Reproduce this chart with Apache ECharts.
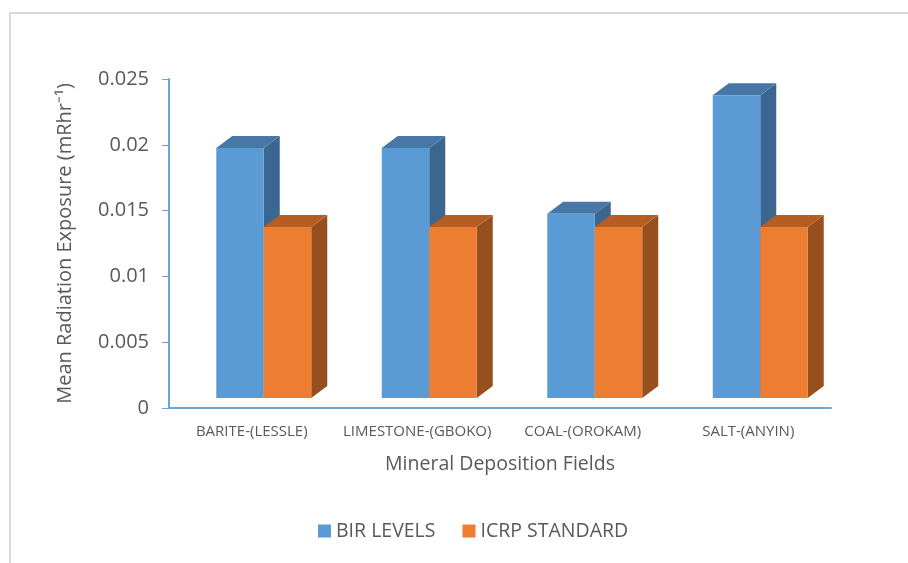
<!DOCTYPE html>
<html>
<head>
<meta charset="utf-8">
<script src="https://cdn.jsdelivr.net/npm/echarts@6/dist/echarts.min.js"></script>
<style>
html, body { margin: 0; padding: 0; background: #fff; }
#chart { width: 908px; height: 563px; }
</style>
</head>
<body>
<div id="chart"></div>
<script>
// values
var categories = ['BARITE-(LESSLE)', 'LIMESTONE-(GBOKO)', 'COAL-(OROKAM)', 'SALT-(ANYIN)']
var birLevels = [0.019, 0.019, 0.014, 0.023]
var icrpStandard = [0.013, 0.013, 0.013, 0.013]
var yTicks = { min: 0, max: 0.025, interval: 0.005 }

var shades = [
  { front: '#5B9BD5', top: '#4677A6', side: '#3B668F' },
  { front: '#ED7D31', top: '#B65E22', side: '#974F1D' }
]

// fake excel style 3d column
function bar3d(idx) {
  return function (params, api) {
    var cat = api.value(0)
    var top = api.coord([cat, api.value(1)])
    var base = api.coord([cat, 0])
    var catW = api.size([1, 0])[0]
    var w = catW * 0.287
    var lift = 10
    var dx = 16
    var dy = 12
    var left = base[0] + 12 - (idx === 0 ? w : 0)
    var right = left + w
    var y0 = base[1] - lift
    var y1 = top[1] - lift
    var c = shades[idx]
    return {
      type: 'group',
      children: [
        { type: 'polygon', shape: { points: [[right, y0], [right + dx, y0 - dy], [right + dx, y1 - dy], [right, y1]] }, style: { fill: c.side } },
        { type: 'polygon', shape: { points: [[left, y1], [left + dx, y1 - dy], [right + dx, y1 - dy], [right, y1]] }, style: { fill: c.top } },
        { type: 'rect', shape: { x: left, y: y1, width: w, height: y0 - y1 }, style: { fill: c.front } }
      ]
    }
  }
}

function toData(vals) {
  return vals.map(function (v, i) { return [i, v] })
}

var chart = echarts.init(document.getElementById('chart'))
chart.setOption({
  animation: false,
  textStyle: { fontFamily: 'Open Sans' },
  graphic: [{
    type: 'rect', shape: { x: 10, y: 13, width: 910, height: 560 },
    style: { fill: 'none', stroke: '#D9D9D9', lineWidth: 2 }, silent: true
  }],
  grid: { left: 169, right: 77, top: 79, bottom: 155 },
  legend: {
    bottom: 17,
    left: 313,
    itemGap: 27,
    itemWidth: 13,
    itemHeight: 13,
    icon: 'rect',
    textStyle: { color: '#595959', fontSize: 19.5 },
    data: ['BIR LEVELS', 'ICRP STANDARD']
  },
  xAxis: {
    type: 'category',
    data: categories,
    name: 'Mineral Deposition Fields',
    nameLocation: 'middle',
    nameGap: 46,
    nameTextStyle: { color: '#595959', fontSize: 19.5 },
    axisLine: { lineStyle: { color: '#6FA3D8', width: 2 } },
    axisTick: { length: 6, lineStyle: { color: '#6FA3D8', width: 1 } },
    axisLabel: { color: '#595959', fontSize: 15, margin: 16, interval: 0 }
  },
  yAxis: {
    type: 'value',
    min: yTicks.min,
    max: yTicks.max,
    interval: yTicks.interval,
    name: 'Mean Radiation Exposure (mRhr\u207B\u00B9)',
    nameLocation: 'middle',
    nameGap: 94,
    nameTextStyle: { color: '#595959', fontSize: 20 },
    axisLine: { show: true, lineStyle: { color: '#6FA3D8', width: 2 } },
    axisTick: { show: true, length: 7, lineStyle: { color: '#6FA3D8', width: 1 } },
    axisLabel: { color: '#595959', fontSize: 20, margin: 20 },
    splitLine: { show: false }
  },
  series: [
    {
      name: 'BIR LEVELS',
      type: 'custom',
      itemStyle: { color: shades[0].front },
      renderItem: bar3d(0),
      encode: { x: 0, y: 1 },
      data: toData(birLevels)
    },
    {
      name: 'ICRP STANDARD',
      type: 'custom',
      itemStyle: { color: shades[1].front },
      renderItem: bar3d(1),
      encode: { x: 0, y: 1 },
      data: toData(icrpStandard)
    }
  ]
})
</script>
</body>
</html>
